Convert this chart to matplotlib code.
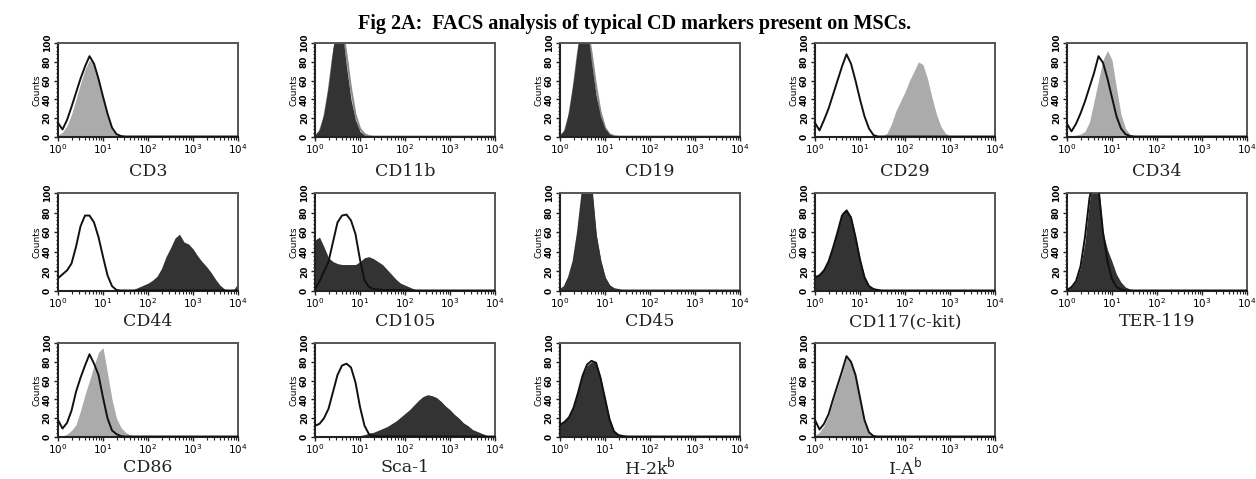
import numpy as np
import matplotlib
matplotlib.use("Agg")
import matplotlib.pyplot as plt
from matplotlib.ticker import MultipleLocator, LogLocator, NullFormatter

# ---------------- data (counts read at log10 intensity 0.0, 0.1, ..., 4.0) ----------------
log_pos = [0.0, 0.1, 0.2, 0.3, 0.4, 0.5, 0.6, 0.7, 0.8, 0.9,
           1.0, 1.1, 1.2, 1.3, 1.4, 1.5, 1.6, 1.7, 1.8, 1.9,
           2.0, 2.1, 2.2, 2.3, 2.4, 2.5, 2.6, 2.7, 2.8, 2.9,
           3.0, 3.1, 3.2, 3.3, 3.4, 3.5, 3.6, 3.7, 3.8, 3.9, 4.0]

markers = ["CD3", "CD11b", "CD19", "CD29", "CD34",
           "CD44", "CD105", "CD45", "CD117(c-kit)", "TER-119",
           "CD86", "Sca-1", "H-2k$^{\\mathrm{b}}$", "I-A$^{\\mathrm{b}}$"]

cd3_fill = [2, 5, 12, 24, 40, 57, 72, 82, 78, 60,
            40, 22, 8, 2, 1, 0.5, 0.3, 0.3, 0.3, 0.3,
            0.3, 0.3, 0.3, 0.3, 0.3, 0.3, 0.3, 0.3, 0.3, 0.3,
            0.3, 0.3, 0.3, 0.3, 0.3, 0.3, 0.3, 0.3, 0.3, 0.3, 0.3]
cd3_ctrl = [15, 8, 18, 32, 47, 62, 75, 86, 78, 62,
            43, 25, 10, 3, 1, 0.5, 0.5, 0.5, 0.5, 0.5,
            0.5, 0.5, 0.5, 0.5, 0.5, 0.5, 0.5, 0.5, 0.5, 0.5,
            0.5, 0.5, 0.5, 0.5, 0.5, 0.5, 0.5, 0.5, 0.5, 0.5, 0.5]

cd11b_fill = [2, 8, 25, 55, 95, 120, 115, 75, 40, 18,
              6, 2, 1, 0.5, 0.5, 0.5, 0.5, 0.5, 0.5, 0.5,
              0.5, 0.5, 0.5, 0.5, 0.5, 0.5, 0.5, 0.5, 0.5, 0.5,
              0.5, 0.5, 0.5, 0.5, 0.5, 0.5, 0.5, 0.5, 0.5, 0.5, 0.5]
cd11b_ctrl = [1, 5, 20, 48, 85, 112, 118, 88, 52, 24,
              9, 3, 1, 0.5, 0.5, 0.5, 0.5, 0.5, 0.5, 0.5,
              0.5, 0.5, 0.5, 0.5, 0.5, 0.5, 0.5, 0.5, 0.5, 0.5,
              0.5, 0.5, 0.5, 0.5, 0.5, 0.5, 0.5, 0.5, 0.5, 0.5, 0.5]

cd19_fill = [2, 8, 28, 60, 98, 125, 118, 80, 45, 22,
             9, 3, 1.5, 1, 0.5, 0.5, 0.5, 0.5, 0.5, 0.5,
             0.5, 0.5, 0.5, 0.5, 0.5, 0.5, 0.5, 0.5, 0.5, 0.5,
             0.5, 0.5, 0.5, 0.5, 0.5, 0.5, 0.5, 0.5, 0.5, 0.5, 0.5]
cd19_ctrl = [1, 5, 22, 52, 90, 118, 120, 90, 55, 27,
             10, 3, 1, 0.5, 0.5, 0.5, 0.5, 0.5, 0.5, 0.5,
             0.5, 0.5, 0.5, 0.5, 0.5, 0.5, 0.5, 0.5, 0.5, 0.5,
             0.5, 0.5, 0.5, 0.5, 0.5, 0.5, 0.5, 0.5, 0.5, 0.5, 0.5]

cd29_fill = [0.3, 0.3, 0.3, 0.5, 0.5, 0.5, 0.5, 0.8, 1, 1,
             1, 0.8, 0.5, 0.5, 0.5, 1, 4, 14, 28, 38,
             48, 60, 70, 80, 77, 62, 42, 24, 11, 4,
             1, 0.5, 0.3, 0.3, 0.3, 0.3, 0.3, 0.3, 0.3, 0.3, 0.3]
cd29_ctrl = [15, 7, 18, 30, 45, 60, 75, 88, 78, 60,
             40, 22, 9, 2, 0.5, 0.5, 0.5, 0.5, 0.5, 0.5,
             0.5, 0.5, 0.5, 0.5, 0.5, 0.5, 0.5, 0.5, 0.5, 0.5,
             0.5, 0.5, 0.5, 0.5, 0.5, 0.5, 0.5, 0.5, 0.5, 0.5, 0.5]

cd34_fill = [0, 1, 2, 3, 6, 16, 38, 60, 82, 92,
             82, 52, 24, 9, 3, 1, 0.5, 0.3, 0.3, 0.3,
             0.3, 0.3, 0.3, 0.3, 0.3, 0.3, 0.3, 0.3, 0.3, 0.3,
             0.3, 0.3, 0.3, 0.3, 0.3, 0.3, 0.3, 0.3, 0.3, 0.3, 0.3]
cd34_ctrl = [14, 6, 14, 25, 38, 53, 68, 86, 79, 62,
             42, 22, 9, 3, 1, 0.5, 0.5, 0.5, 0.5, 0.5,
             0.5, 0.5, 0.5, 0.5, 0.5, 0.5, 0.5, 0.5, 0.5, 0.5,
             0.5, 0.5, 0.5, 0.5, 0.5, 0.5, 0.5, 0.5, 0.5, 0.5, 0.5]

cd44_fill = [0, 0, 0, 0, 0, 0, 0, 0, 0, 0,
             0, 0, 0, 0, 0.3, 0.5, 1, 2, 4, 6,
             8, 11, 15, 23, 35, 44, 54, 58, 50, 48,
             43, 36, 30, 25, 19, 12, 6, 2, 1, 1, 8]
cd44_ctrl = [13, 17, 21, 28, 45, 66, 77, 77, 70, 55,
             35, 16, 5, 1, 0.5, 0.5, 0.5, 0.5, 0.5, 0.5,
             0.5, 0.5, 0.5, 0.5, 0.5, 0.5, 0.5, 0.5, 0.5, 0.5,
             0.5, 0.5, 0.5, 0.5, 0.5, 0.5, 0.5, 0.5, 0.5, 0.5, 0.5]

cd105_fill = [52, 55, 45, 34, 30, 28, 27, 27, 27, 27,
              30, 34, 35, 33, 30, 27, 22, 17, 12, 8,
              6, 4, 2, 1, 0.5, 0.3, 0.3, 0.3, 0.3, 0.3,
              0.3, 0.3, 0.3, 0.3, 0.3, 0.3, 0.3, 0.3, 0.3, 0.3, 0.3]
cd105_ctrl = [2, 10, 20, 30, 50, 70, 77, 78, 72, 58,
              32, 11, 4, 2, 1.5, 1, 1, 1, 1, 1,
              0.5, 0.5, 0.5, 0.5, 0.5, 0.5, 0.5, 0.5, 0.5, 0.5,
              0.5, 0.5, 0.5, 0.5, 0.5, 0.5, 0.5, 0.5, 0.5, 0.5, 0.5]

cd45_fill = [1, 4, 15, 32, 62, 102, 125, 108, 58, 32,
             14, 6, 2.5, 1.5, 1, 0.5, 0.3, 0.3, 0.3, 0.3,
             0.3, 0.3, 0.3, 0.3, 0.3, 0.3, 0.3, 0.3, 0.3, 0.3,
             0.3, 0.3, 0.3, 0.3, 0.3, 0.3, 0.3, 0.3, 0.3, 0.3, 0.3]
cd45_ctrl = [1, 4, 14, 30, 60, 100, 122, 105, 56, 30,
             13, 5, 2, 1, 0.5, 0.5, 0.5, 0.5, 0.5, 0.5,
             0.5, 0.5, 0.5, 0.5, 0.5, 0.5, 0.5, 0.5, 0.5, 0.5,
             0.5, 0.5, 0.5, 0.5, 0.5, 0.5, 0.5, 0.5, 0.5, 0.5, 0.5]

cd117_fill = [15, 17, 23, 32, 45, 62, 80, 84, 76, 56,
              33, 15, 5, 2, 1, 0.3, 0.3, 0.3, 0.3, 0.3,
              0.3, 0.3, 0.3, 0.3, 0.3, 0.3, 0.3, 0.3, 0.3, 0.3,
              0.3, 0.3, 0.3, 0.3, 0.3, 0.3, 0.3, 0.3, 0.3, 0.3, 0.3]
cd117_ctrl = [14, 16, 21, 30, 44, 60, 77, 82, 75, 55,
              32, 14, 5, 2, 1, 0.5, 0.5, 0.5, 0.5, 0.5,
              0.5, 0.5, 0.5, 0.5, 0.5, 0.5, 0.5, 0.5, 0.5, 0.5,
              0.5, 0.5, 0.5, 0.5, 0.5, 0.5, 0.5, 0.5, 0.5, 0.5, 0.5]

ter119_fill = [1, 4, 10, 24, 50, 92, 118, 108, 60, 42,
               30, 17, 9, 4, 2, 1, 0.3, 0.3, 0.3, 0.3,
               0.3, 0.3, 0.3, 0.3, 0.3, 0.3, 0.3, 0.3, 0.3, 0.3,
               0.3, 0.3, 0.3, 0.3, 0.3, 0.3, 0.3, 0.3, 0.3, 0.3, 0.3]
ter119_ctrl = [1, 4, 10, 25, 55, 95, 115, 105, 60, 30,
               12, 4, 1.5, 0.5, 0.5, 0.5, 0.5, 0.5, 0.5, 0.5,
               0.5, 0.5, 0.5, 0.5, 0.5, 0.5, 0.5, 0.5, 0.5, 0.5,
               0.5, 0.5, 0.5, 0.5, 0.5, 0.5, 0.5, 0.5, 0.5, 0.5, 0.5]

cd86_fill = [1, 1, 3, 7, 13, 28, 45, 60, 76, 90,
             95, 68, 40, 20, 10, 5, 2.5, 1, 0.3, 0.3,
             0.3, 0.3, 0.3, 0.3, 0.3, 0.3, 0.3, 0.3, 0.3, 0.3,
             0.3, 0.3, 0.3, 0.3, 0.3, 0.3, 0.3, 0.3, 0.3, 0.3, 0.3]
cd86_ctrl = [18, 9, 15, 28, 48, 63, 76, 88, 78, 66,
             42, 20, 7, 3, 1, 0.5, 0.5, 0.5, 0.5, 0.5,
             0.5, 0.5, 0.5, 0.5, 0.5, 0.5, 0.5, 0.5, 0.5, 0.5,
             0.5, 0.5, 0.5, 0.5, 0.5, 0.5, 0.5, 0.5, 0.5, 0.5, 0.5]

sca1_fill = [0, 0, 0, 0, 0, 0, 0, 0, 0.5, 1,
             1.5, 2.5, 4, 5, 7, 9, 11, 14, 17, 21,
             25, 29, 34, 39, 43, 45, 44, 42, 38, 33,
             29, 24, 20, 15, 12, 8, 6, 4, 2, 1, 0.5]
sca1_ctrl = [12, 14, 20, 30, 48, 66, 76, 78, 74, 58,
             32, 12, 3, 1, 0.5, 0.5, 0.5, 0.5, 0.5, 0.5,
             0.5, 0.5, 0.5, 0.5, 0.5, 0.5, 0.5, 0.5, 0.5, 0.5,
             0.5, 0.5, 0.5, 0.5, 0.5, 0.5, 0.5, 0.5, 0.5, 0.5, 0.5]

h2kb_fill = [14, 17, 22, 32, 48, 66, 76, 80, 80, 64,
             42, 20, 6, 2, 1, 0.3, 0.3, 0.3, 0.3, 0.3,
             0.3, 0.3, 0.3, 0.3, 0.3, 0.3, 0.3, 0.3, 0.3, 0.3,
             0.3, 0.3, 0.3, 0.3, 0.3, 0.3, 0.3, 0.3, 0.3, 0.3, 0.3]
h2kb_ctrl = [13, 16, 21, 31, 47, 65, 77, 81, 79, 63,
             41, 19, 6, 2, 1, 0.5, 0.5, 0.5, 0.5, 0.5,
             0.5, 0.5, 0.5, 0.5, 0.5, 0.5, 0.5, 0.5, 0.5, 0.5,
             0.5, 0.5, 0.5, 0.5, 0.5, 0.5, 0.5, 0.5, 0.5, 0.5, 0.5]

iab_fill = [2, 5, 12, 22, 38, 53, 68, 84, 79, 64,
            40, 16, 4, 1, 0.3, 0.3, 0.3, 0.3, 0.3, 0.3,
            0.3, 0.3, 0.3, 0.3, 0.3, 0.3, 0.3, 0.3, 0.3, 0.3,
            0.3, 0.3, 0.3, 0.3, 0.3, 0.3, 0.3, 0.3, 0.3, 0.3, 0.3]
iab_ctrl = [18, 8, 14, 24, 40, 55, 70, 86, 80, 66,
            42, 18, 5, 1, 0.5, 0.5, 0.5, 0.5, 0.5, 0.5,
            0.5, 0.5, 0.5, 0.5, 0.5, 0.5, 0.5, 0.5, 0.5, 0.5,
            0.5, 0.5, 0.5, 0.5, 0.5, 0.5, 0.5, 0.5, 0.5, 0.5, 0.5]

fills = [cd3_fill, cd11b_fill, cd19_fill, cd29_fill, cd34_fill,
         cd44_fill, cd105_fill, cd45_fill, cd117_fill, ter119_fill,
         cd86_fill, sca1_fill, h2kb_fill, iab_fill]
ctrls = [cd3_ctrl, cd11b_ctrl, cd19_ctrl, cd29_ctrl, cd34_ctrl,
         cd44_ctrl, cd105_ctrl, cd45_ctrl, cd117_ctrl, ter119_ctrl,
         cd86_ctrl, sca1_ctrl, h2kb_ctrl, iab_ctrl]

# ---------------- styles ----------------
LIGHT = "#ababab"
DARK = "#333333"
fill_colors = [LIGHT, DARK, DARK, LIGHT, LIGHT,
               DARK, DARK, DARK, DARK, DARK,
               LIGHT, DARK, DARK, LIGHT]
ctrl_colors = ["#111111", "#8c8c8c", "#8c8c8c", "#111111", "#111111",
               "#111111", "#111111", DARK, "#111111", "#111111",
               "#111111", "#111111", "#111111", "#111111"]
ctrl_on_top = [True, False, False, True, True,
               True, True, False, True, True,
               True, True, True, True]

W, H = 1256, 479
col_left = [58, 315, 560, 815, 1067]
col_width = 180
row_top = [43, 193, 343]
row_bot = [137, 291, 437]
label_y = [172, 322, 468]

plt.rcParams["mathtext.fontset"] = "dejavusans"
fig = plt.figure(figsize=(W / 100, H / 100), dpi=100)
fig.patch.set_facecolor("white")

fig.text(635 / W, 1 - 24 / H, "Fig 2A:  FACS analysis of typical CD markers present on MSCs.",
         ha="center", va="center", fontsize=14.5, fontweight="bold",
         family="Liberation Serif")

xs = 10 ** np.array(log_pos)

for i, name in enumerate(markers):
    r, c = divmod(i, 5)
    ax = fig.add_axes([col_left[c] / W, 1 - row_bot[r] / H, col_width / W,
                       (row_bot[r] - row_top[r]) / H])
    f = np.array(fills[i])
    g = np.array(ctrls[i])
    z_ctrl = 3 if ctrl_on_top[i] else 1
    ax.fill_between(xs, f, 0, color=fill_colors[i], lw=0, zorder=2)
    ax.plot(xs, g, color=ctrl_colors[i], lw=1.4, zorder=z_ctrl)
    ax.set_xscale("log")
    ax.set_xlim(1, 1e4)
    ax.set_ylim(0, 100)
    ax.yaxis.set_major_locator(MultipleLocator(20))
    ax.yaxis.set_minor_locator(MultipleLocator(4))
    ax.xaxis.set_major_locator(LogLocator(base=10, numticks=10))
    ax.xaxis.set_minor_locator(LogLocator(base=10, subs=np.arange(2, 10), numticks=10))
    ax.xaxis.set_minor_formatter(NullFormatter())
    ax.tick_params(axis="y", which="major", labelsize=6.5, length=3, width=1,
                   pad=1.5, labelrotation=90, color="#222222")
    ax.tick_params(axis="y", which="minor", length=1.8, width=0.8, color="#222222")
    ax.tick_params(axis="x", which="major", labelsize=7.5, length=3, width=1,
                   pad=1, color="#222222")
    ax.tick_params(axis="x", which="minor", length=2, width=0.8, color="#222222")
    for lab in ax.get_yticklabels():
        lab.set_va("center")
        lab.set_fontweight("bold")
    ax.set_ylabel("Counts", fontsize=6.5, labelpad=1)
    for side in ["left", "bottom"]:
        ax.spines[side].set_linewidth(1.5)
        ax.spines[side].set_color("#222222")
    for side in ["top", "right"]:
        ax.spines[side].set_linewidth(1.4)
        ax.spines[side].set_color("#555555")
    cx = (col_left[c] + col_width / 2) / W
    fig.text(cx, 1 - label_y[r] / H, name, ha="center", va="center",
             fontsize=12.5, family="DejaVu Serif", color="#222222")

fig.savefig("out.png", dpi=100, facecolor="white")
